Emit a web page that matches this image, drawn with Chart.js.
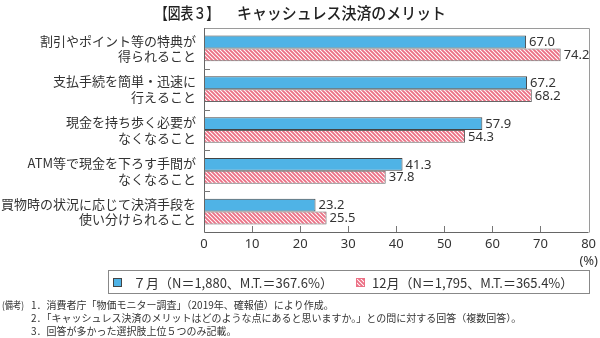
<!DOCTYPE html>
<html><head><meta charset="utf-8">
<script src="https://cdn.jsdelivr.net/npm/chart.js@4.4.1/dist/chart.umd.min.js"></script>
<style>html,body{margin:0;padding:0;background:#fff;}canvas{display:block;}</style>
</head><body>
<canvas id="c" width="600" height="338"></canvas>
<script>
const categories = [
  ["割引やポイント等の特典が", "得られること"],
  ["支払手続を簡単・迅速に", "行えること"],
  ["現金を持ち歩く必要が", "なくなること"],
  ["ATM等で現金を下ろす手間が", "なくなること"],
  ["買物時の状況に応じて決済手段を", "使い分けられること"]
];
const julyValues = [67.0, 67.2, 57.9, 41.3, 23.2];
const decValues = [74.2, 68.2, 54.3, 37.8, 25.5];
const xTickValues = [0, 10, 20, 30, 40, 50, 60, 70, 80];
const seriesNames = ["７月（N＝1,880、M.T.＝367.6%）", "12月（N＝1,795、M.T.＝365.4%）"];
const titleParts = ["【図表３】", "キャッシュレス決済のメリット"];
const notes = [
  ["(備考)", "1．消費者庁「物価モニター調査」（2019年、確報値）により作成。"],
  ["", "2．「キャッシュレス決済のメリットはどのような点にあると思いますか。」との問に対する回答（複数回答）。"],
  ["", "3．回答が多かった選択肢上位５つのみ記載。"]
];

const BLUE = "#4fb3e6";
const PINK = "#ec7085";
const JP = '"Noto Sans CJK JP", "Noto Sans", sans-serif';

function makePattern() {
  const t = document.createElement("canvas");
  t.width = 4; t.height = 4;
  const g = t.getContext("2d");
  g.fillStyle = "#fff"; g.fillRect(0, 0, 4, 4);
  g.strokeStyle = PINK; g.lineWidth = 1.9;
  g.beginPath();
  g.moveTo(-1, -1); g.lineTo(5, 5);
  g.moveTo(-1, 3); g.lineTo(1, 5);
  g.moveTo(3, -1); g.lineTo(5, 1);
  g.stroke();
  return document.getElementById("c").getContext("2d").createPattern(t, "repeat");
}
const pinkPattern = makePattern();

const decorPlugin = {
  id: "decor",
  afterDatasetsDraw(chart) {
    const ctx = chart.ctx;
    const a = chart.chartArea;
    const xs = chart.scales.x, ys = chart.scales.y;
    ctx.save();
    ctx.lineWidth = 1;
    ctx.strokeStyle = "#9a9a9a";
    ctx.beginPath();
    ctx.moveTo(a.left, Math.round(a.top) + 0.5);
    ctx.lineTo(Math.round(a.right) + 0.5, Math.round(a.top) + 0.5);
    ctx.lineTo(Math.round(a.right) + 0.5, Math.round(a.bottom) + 0.5);
    ctx.stroke();
    ctx.strokeStyle = "#666";
    ctx.beginPath();
    ctx.moveTo(Math.round(a.left) + 0.5, a.top);
    ctx.lineTo(Math.round(a.left) + 0.5, Math.round(a.bottom) + 0.5);
    ctx.lineTo(a.right, Math.round(a.bottom) + 0.5);
    ctx.stroke();
    ctx.strokeStyle = "#777";
    ctx.beginPath();
    xTickValues.slice(1, -1).forEach(v => {
      const px = Math.round(xs.getPixelForValue(v)) + 0.5;
      ctx.moveTo(px, a.bottom);
      ctx.lineTo(px, a.bottom - 6);
    });
    for (let i = 0; i < categories.length - 1; i++) {
      const py = Math.round((ys.getPixelForValue(i) + ys.getPixelForValue(i + 1)) / 2) + 0.5;
      ctx.moveTo(a.left, py);
      ctx.lineTo(a.left + 6, py);
    }
    ctx.stroke();
    ctx.fillStyle = "#333";
    ctx.font = '13px "Noto Sans", sans-serif';
    ctx.textBaseline = "middle";
    ctx.textAlign = "left";
    chart.data.datasets.forEach((ds, di) => {
      const meta = chart.getDatasetMeta(di);
      meta.data.forEach((el, i) => {
        ctx.fillText(ds.data[i].toFixed(1), el.x + 3, el.y + 0.5);
      });
    });
    ctx.restore();
  },
  afterDraw(chart) {
    const ctx = chart.ctx;
    ctx.save();
    ctx.fillStyle = "#222";
    ctx.textBaseline = "middle";
    ctx.textAlign = "left";
    ctx.font = '500 16px ' + JP;
    ctx.fillText(titleParts[0], 155, 13, 64);
    ctx.fillText(titleParts[1], 237, 13, 209);
    ctx.fillStyle = "#333";
    ctx.font = '13px "Noto Sans", sans-serif';
    ctx.textAlign = "right";
    ctx.fillText("(%)", 598, 261);
    ctx.textAlign = "left";
    ctx.strokeStyle = "#888";
    ctx.lineWidth = 1;
    ctx.strokeRect(108.5, 270.5, 481, 23);
    ctx.fillStyle = BLUE;
    ctx.fillRect(113, 278, 9, 9);
    ctx.strokeStyle = "#444";
    ctx.strokeRect(113.5, 278.5, 8, 8);
    ctx.fillStyle = pinkPattern;
    ctx.fillRect(356, 278, 9, 9);
    ctx.strokeStyle = PINK;
    ctx.strokeRect(356.5, 278.5, 8, 8);
    ctx.fillStyle = "#333";
    ctx.font = '13px ' + JP;
    ctx.fillText(seriesNames[0], 133, 283, 208);
    ctx.fillText(seriesNames[1], 372, 283, 209);
    ctx.font = '10px ' + JP;
    const ny = [305, 318, 331];
    notes.forEach((n, i) => {
      if (n[0]) ctx.fillText(n[0], 2, ny[i], 22);
      ctx.fillText(n[1], 31, ny[i]);
    });
    ctx.restore();
  }
};

new Chart(document.getElementById("c"), {
  type: "bar",
  data: {
    labels: categories,
    datasets: [
      { label: seriesNames[0], data: julyValues, backgroundColor: BLUE, borderColor: "#444", borderWidth: 1, borderSkipped: false },
      { label: seriesNames[1], data: decValues, backgroundColor: pinkPattern, borderColor: "#666", borderWidth: 1, borderSkipped: false }
    ]
  },
  options: {
    indexAxis: "y",
    responsive: false,
    animation: false,
    devicePixelRatio: 1,
    layout: { padding: { top: 28, right: 10, bottom: 0, left: 0 } },
    plugins: { legend: { display: false }, tooltip: { enabled: false }, title: { display: false } },
    datasets: { bar: { categoryPercentage: 0.63, barPercentage: 1.0 } },
    scales: {
      x: {
        min: 0, max: 80,
        afterBuildTicks(s) { s.ticks = xTickValues.map(v => ({ value: v })); },
        grid: { display: false, drawTicks: false },
        border: { display: false },
        ticks: { color: "#333", font: { family: '"Noto Sans", sans-serif', size: 13 }, padding: 4, maxRotation: 0 },
        afterFit(s) { s.height = 106; }
      },
      y: {
        grid: { display: false, drawTicks: false },
        border: { display: false },
        ticks: { color: "#333", font: { family: JP, size: 13, lineHeight: 1.2 }, padding: 8, crossAlign: "near" },
        afterFit(s) { s.width = 204; }
      }
    }
  },
  plugins: [decorPlugin]
});
</script>
</body></html>
